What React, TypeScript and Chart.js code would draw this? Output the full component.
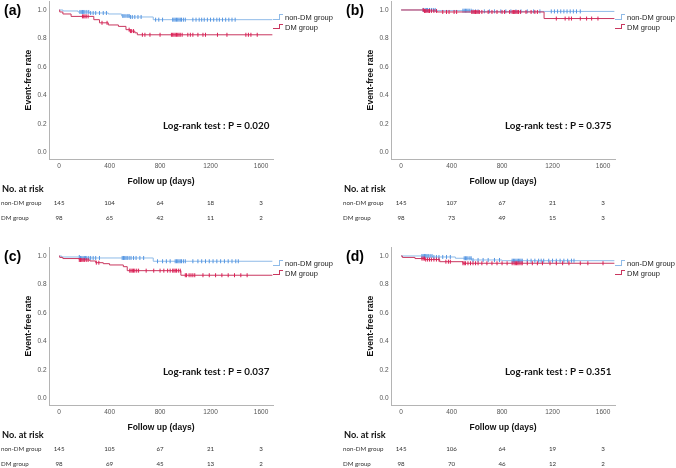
import React, { useEffect, useRef } from "react";
import { Chart, registerables } from "chart.js";
Chart.register(...registerables);

// ---------- shared axis values ----------
const xTickValues = [0, 400, 800, 1200, 1600];
const yTickValues = [0, 0.2, 0.4, 0.6, 0.8, 1.0];
const X_MIN = -80;
const X_MAX = 1695;
const Y_MIN = -0.045;
const Y_MAX = 1.063;
const riskTimes = [0, 400, 800, 1200, 1600];
const seriesNames = ["non-DM group", "DM group"];

// ---------- panel (a) ----------
const aNonDmTimes = [0, 30, 150, 240, 390, 495, 560, 746, 1690];
const aNonDmSurv = [1.0, 0.993, 0.986, 0.979, 0.972, 0.958, 0.951, 0.932, 0.932];
const aNonDmCensor = [165, 175, 185, 195, 205, 220, 235, 250, 270, 290, 320, 350, 375, 505, 515, 530, 545, 555, 565, 580, 600, 625, 650, 765, 790, 820, 900, 910, 920, 930, 940, 950, 960, 970, 985, 1000, 1060, 1085, 1110, 1130, 1150, 1175, 1200, 1225, 1250, 1270, 1295, 1320, 1345, 1370, 1395];
const aDmTimes = [0, 5, 30, 95, 275, 320, 390, 470, 530, 560, 600, 620, 1690];
const aDmSurv = [1.0, 0.986, 0.972, 0.955, 0.932, 0.91, 0.895, 0.885, 0.862, 0.852, 0.84, 0.826, 0.826];
const aDmCensor = [185, 195, 205, 215, 230, 340, 380, 555, 565, 575, 590, 660, 680, 720, 800, 890, 900, 910, 920, 930, 940, 950, 960, 975, 1020, 1040, 1060, 1100, 1140, 1160, 1255, 1330, 1480, 1500, 1520, 1570];
const aRiskNonDm = [145, 104, 64, 18, 3];
const aRiskDm = [98, 65, 42, 11, 2];
const aPText = "Log-rank test : P = 0.020";

// ---------- panel (b) ----------
const bNonDmTimes = [0, 280, 560, 1690];
const bNonDmSurv = [1.0, 0.995, 0.99, 0.99];
const bNonDmCensor = [175, 190, 200, 210, 225, 240, 255, 270, 490, 500, 510, 520, 530, 540, 555, 570, 590, 610, 660, 700, 740, 790, 830, 870, 910, 950, 1000, 1050, 1100, 1190, 1215, 1240, 1265, 1290, 1315, 1340, 1365, 1390, 1420];
const bDmTimes = [0, 180, 285, 1133, 1690];
const bDmSurv = [1.0, 0.993, 0.986, 0.94, 0.94];
const bDmCensor = [175, 185, 195, 205, 215, 225, 240, 260, 280, 330, 360, 380, 420, 440, 560, 570, 580, 590, 600, 610, 620, 640, 690, 720, 760, 800, 820, 860, 880, 890, 900, 910, 920, 930, 945, 990, 1030, 1060, 1080, 1230, 1300, 1330, 1350, 1420, 1470, 1510, 1560];
const bRiskNonDm = [145, 107, 67, 21, 3];
const bRiskDm = [98, 73, 49, 15, 3];
const bPText = "Log-rank test : P = 0.375";

// ---------- panel (c) ----------
const cNonDmTimes = [0, 20, 170, 746, 1690];
const cNonDmSurv = [1.0, 0.993, 0.986, 0.963, 0.963];
const cNonDmCensor = [160, 170, 180, 190, 200, 210, 220, 235, 250, 270, 290, 320, 500, 510, 520, 530, 540, 555, 570, 590, 610, 640, 670, 780, 820, 850, 880, 920, 930, 940, 950, 960, 970, 985, 1000, 1060, 1100, 1130, 1160, 1190, 1220, 1250, 1280, 1310, 1340, 1370, 1400, 1420];
const cDmTimes = [0, 5, 30, 160, 244, 290, 350, 400, 509, 540, 965, 1690];
const cDmSurv = [1.0, 0.99, 0.982, 0.972, 0.965, 0.953, 0.946, 0.937, 0.925, 0.897, 0.865, 0.865];
const cDmCensor = [160, 170, 180, 190, 200, 215, 230, 295, 315, 560, 570, 580, 590, 600, 615, 630, 690, 750, 800, 830, 860, 880, 900, 910, 920, 930, 945, 960, 1000, 1010, 1030, 1045, 1060, 1075, 1140, 1190, 1240, 1290, 1340, 1390, 1440, 1490];
const cRiskNonDm = [145, 105, 67, 21, 3];
const cRiskDm = [98, 69, 45, 13, 2];
const cPText = "Log-rank test : P = 0.037";

// ---------- panel (d) ----------
const dNonDmTimes = [0, 250, 430, 557, 800, 1690];
const dNonDmSurv = [1.0, 0.993, 0.984, 0.972, 0.967, 0.967];
const dNonDmCensor = [165, 175, 185, 195, 205, 215, 230, 245, 260, 280, 300, 330, 360, 390, 500, 510, 520, 530, 545, 555, 570, 610, 650, 690, 740, 780, 880, 890, 900, 910, 920, 930, 940, 950, 960, 1000, 1030, 1060, 1090, 1110, 1130, 1170, 1200, 1230, 1260, 1290, 1320, 1350, 1370];
const dDmTimes = [0, 10, 110, 190, 306, 490, 1690];
const dDmSurv = [1.0, 0.99, 0.982, 0.975, 0.96, 0.949, 0.949];
const dDmCensor = [165, 175, 185, 195, 210, 225, 240, 260, 280, 300, 355, 375, 390, 490, 500, 510, 530, 550, 570, 590, 610, 640, 680, 720, 760, 800, 840, 880, 895, 905, 915, 925, 935, 950, 960, 1000, 1040, 1080, 1120, 1180, 1230, 1280, 1330, 1420, 1480, 1600];
const dRiskNonDm = [145, 106, 64, 19, 3];
const dRiskDm = [98, 70, 46, 12, 2];
const dPText = "Log-rank test : P = 0.351";

// ---------- styles ----------
const BLUE_LINE = "#8fbbe8";
const BLUE_MARK = "#5596e2";
const RED_LINE = "#c9375f";
const RED_MARK = "#dc1f55";
const AXIS_COLOR = "#b4b4b4";
const SANS = "'Liberation Sans', Arial, sans-serif";
const CAL = "Lato, 'Liberation Sans', sans-serif";

// geometry of panel (a); other panels are offset
const CH_L = 49;
const CH_R = 273;
const CH_T = 1;
const CH_B = 159;
const CANVAS_W = 340;
const CANVAS_BOTTOM = 190;
const PAD_T = 8;

const panels = [
  { label: "(a)", ox: 0, oy: 0, nonT: aNonDmTimes, nonS: aNonDmSurv, nonC: aNonDmCensor, dmT: aDmTimes, dmS: aDmSurv, dmC: aDmCensor, riskNon: aRiskNonDm, riskDm: aRiskDm, pText: aPText },
  { label: "(b)", ox: 342, oy: 0, nonT: bNonDmTimes, nonS: bNonDmSurv, nonC: bNonDmCensor, dmT: bDmTimes, dmS: bDmSurv, dmC: bDmCensor, riskNon: bRiskNonDm, riskDm: bRiskDm, pText: bPText },
  { label: "(c)", ox: 0, oy: 246, nonT: cNonDmTimes, nonS: cNonDmSurv, nonC: cNonDmCensor, dmT: cDmTimes, dmS: cDmSurv, dmC: cDmCensor, riskNon: cRiskNonDm, riskDm: cRiskDm, pText: cPText },
  { label: "(d)", ox: 342, oy: 246, nonT: dNonDmTimes, nonS: dNonDmSurv, nonC: dNonDmCensor, dmT: dDmTimes, dmS: dDmSurv, dmC: dDmCensor, riskNon: dRiskNonDm, riskDm: dRiskDm, pText: dPText },
];

function survAt(times: number[], surv: number[], t: number) {
  let s = surv[0];
  for (let i = 0; i < times.length; i++) if (times[i] <= t) s = surv[i];
  return s;
}
const stepPoints = (times: number[], surv: number[]) => times.map((t, i) => ({ x: t, y: surv[i] }));
const censorPoints = (c: number[], times: number[], surv: number[]) => c.map((t) => ({ x: t, y: survAt(times, surv, t) }));

function KMChart({ p }: { p: any }) {
  const ref = useRef<HTMLCanvasElement>(null);
  useEffect(() => {
    const chart = new Chart(ref.current as HTMLCanvasElement, {
      type: "line",
      data: {
        datasets: [
          { data: censorPoints(p.dmC, p.dmT, p.dmS), showLine: false, pointStyle: "line", pointRotation: 90, pointRadius: 2, pointBorderColor: RED_MARK, pointBorderWidth: 1, borderColor: RED_MARK },
          { data: stepPoints(p.dmT, p.dmS), stepped: true, borderColor: RED_LINE, borderWidth: 1, pointRadius: 0, fill: false },
          { data: censorPoints(p.nonC, p.nonT, p.nonS), showLine: false, pointStyle: "line", pointRotation: 90, pointRadius: 2, pointBorderColor: BLUE_MARK, pointBorderWidth: 1, borderColor: BLUE_MARK },
          { data: stepPoints(p.nonT, p.nonS), stepped: true, borderColor: BLUE_LINE, borderWidth: 1, pointRadius: 0, fill: false },
        ],
      } as any,
      options: {
        responsive: false,
        animation: false,
        events: [],
        layout: { padding: { top: PAD_T, right: CANVAS_W - CH_R, bottom: 0, left: 0 } },
        plugins: { legend: { display: false }, tooltip: { enabled: false } },
        scales: {
          x: {
            type: "linear",
            min: X_MIN,
            max: X_MAX,
            afterBuildTicks: (s: any) => { s.ticks = xTickValues.map((v) => ({ value: v })); },
            afterFit: (s: any) => { s.height = CANVAS_BOTTOM - CH_B; },
            grid: { display: false, drawTicks: false },
            border: { display: true, color: AXIS_COLOR, width: 1 },
            ticks: { autoSkip: false, maxRotation: 0, minRotation: 0, padding: 3, color: "#555", font: { family: SANS, size: 6.5 }, callback: (v: any) => String(v) },
            title: { display: true, text: "Follow up (days)", color: "#111", font: { family: SANS, size: 8.5, weight: "bold" }, padding: { top: 0, bottom: 3.2 } },
          },
          y: {
            type: "linear",
            min: Y_MIN,
            max: Y_MAX,
            afterBuildTicks: (s: any) => { s.ticks = yTickValues.map((v) => ({ value: v })); },
            afterFit: (s: any) => { s.width = CH_L; },
            grid: { display: false, drawTicks: false },
            border: { display: true, color: AXIS_COLOR, width: 1 },
            ticks: { autoSkip: false, padding: 2.5, color: "#555", font: { family: SANS, size: 6.5 }, callback: (v: any) => Number(v).toFixed(1) },
            title: { display: true, text: "Event-free rate", color: "#111", font: { family: SANS, size: 8.7, weight: "bold" }, padding: { top: 23.5, bottom: 0 } },
          },
        },
      } as any,
    });
    return () => chart.destroy();
  }, []);
  const canvasH = CANVAS_BOTTOM - (CH_T - PAD_T);
  return (
    <canvas
      ref={ref}
      width={CANVAS_W}
      height={canvasH}
      style={{ position: "absolute", left: p.ox, top: p.oy + CH_T - PAD_T, width: CANVAS_W, height: canvasH }}
    />
  );
}

function Txt({ x, y, text, size, bold, family, color, center }: any) {
  return (
    <div
      style={{
        position: "absolute",
        left: x,
        top: y - size * 0.6,
        fontSize: size,
        lineHeight: `${size * 1.2}px`,
        fontFamily: family || SANS,
        fontWeight: bold ? 700 : 400,
        color: color || "#111",
        whiteSpace: "nowrap",
        transform: center ? "translateX(-50%)" : undefined,
      }}
    >
      {text}
    </div>
  );
}

function LegendIcon({ x, yTop, yBot, color }: any) {
  return (
    <>
      <div style={{ position: "absolute", left: x, top: yTop, width: 6, height: yBot - yTop, borderRight: `1px solid ${color}`, borderBottom: `1px solid ${color}` }} />
      <div style={{ position: "absolute", left: x + 6, top: yTop, width: 4, height: 0, borderTop: `1px solid ${color}` }} />
    </>
  );
}

const xPix = (v: number) => CH_L + ((v - X_MIN) / (X_MAX - X_MIN)) * (CH_R - CH_L);

function Panel({ p }: { p: any }) {
  const ox = p.ox;
  const oy = p.oy;
  return (
    <>
      <KMChart p={p} />
      <Txt x={ox + 4} y={oy + 10} text={p.label} size={14} bold color="#000" />
      <LegendIcon x={ox + 273} yTop={oy + 14} yBot={oy + 19} color={BLUE_LINE} />
      <Txt x={ox + 285} y={oy + 17.3} text={seriesNames[0]} size={7.5} color="#222" />
      <LegendIcon x={ox + 273} yTop={oy + 24} yBot={oy + 27.5} color={RED_LINE} />
      <Txt x={ox + 285} y={oy + 27} text={seriesNames[1]} size={7.5} color="#222" />
      <Txt x={ox + 163} y={oy + 126} text={p.pText} size={9.8} bold family={CAL} color="#111" />
      <Txt x={ox + 2} y={oy + 188.7} text="No. at risk" size={9.2} bold family={CAL} color="#111" />
      <Txt x={ox + 1} y={oy + 202.3} text={seriesNames[0]} size={6.2} family={CAL} color="#333" />
      <Txt x={ox + 1} y={oy + 217.7} text={seriesNames[1]} size={6.2} family={CAL} color="#333" />
      {riskTimes.map((t, i) => (
        <React.Fragment key={t}>
          <Txt x={ox + xPix(t)} y={oy + 202.3} text={String(p.riskNon[i])} size={6.2} family={CAL} color="#333" center />
          <Txt x={ox + xPix(t)} y={oy + 217.7} text={String(p.riskDm[i])} size={6.2} family={CAL} color="#333" center />
        </React.Fragment>
      ))}
    </>
  );
}

export default function App() {
  return (
    <div style={{ position: "fixed", left: 0, top: 0, width: 676, height: 468, background: "#fff", overflow: "hidden" }}>
      {panels.map((p) => (
        <Panel key={p.label} p={p} />
      ))}
    </div>
  );
}
